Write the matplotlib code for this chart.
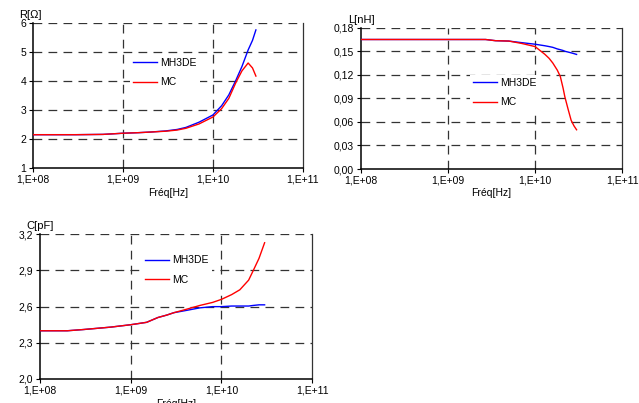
import numpy as np
import matplotlib
matplotlib.use('Agg')
import matplotlib.pyplot as plt
from matplotlib.ticker import FixedLocator, FuncFormatter, NullLocator

plt.rcParams['font.family'] = ['Liberation Sans', 'DejaVu Sans']
plt.rcParams['font.size'] = 7

# frequency points (Hz)
f_R = [1e8, 3e8, 6e8, 1e9, 1.5e9, 2e9, 3e9, 4e9, 5e9, 7e9, 1e10, 1.25e10, 1.5e10, 1.8e10, 2.1e10, 2.46e10, 2.75e10, 3e10]
R_mh3de = [2.15, 2.15, 2.16, 2.2, 2.22, 2.24, 2.28, 2.33, 2.4, 2.58, 2.83, 3.15, 3.52, 4.03, 4.5, 5.07, 5.4, 5.76]
R_mc = [2.15, 2.15, 2.16, 2.2, 2.22, 2.24, 2.27, 2.31, 2.37, 2.52, 2.76, 3.05, 3.4, 3.95, 4.35, 4.62, 4.45, 4.17]

f_L = [1e8, 5e8, 1e9, 2.7e9, 3.5e9, 5e9, 7e9, 1e10, 1.3e10, 1.45e10, 1.6e10, 1.8e10, 1.95e10, 2.1e10, 2.2e10, 2.4e10, 2.6e10, 2.8e10, 3e10]
L_mh3de = [0.165, 0.165, 0.165, 0.165, 0.1635, 0.163, 0.161, 0.159, 0.157, 0.156, 0.155, 0.153, 0.152, 0.151, 0.150, 0.149, 0.148, 0.147, 0.146]
L_mc = [0.165, 0.165, 0.165, 0.165, 0.1635, 0.163, 0.160, 0.156, 0.146, 0.141, 0.135, 0.126, 0.118, 0.103, 0.092, 0.076, 0.062, 0.055, 0.050]

f_C = [1e8, 2e8, 3e8, 6e8, 1e9, 1.5e9, 2e9, 2.5e9, 3e9, 4.2e9, 5.8e9, 8e9, 1e10, 1.3e10, 1.6e10, 2e10, 2.25e10, 2.6e10, 3e10]
C_mh3de = [2.40, 2.40, 2.41, 2.43, 2.45, 2.47, 2.51, 2.53, 2.55, 2.57, 2.59, 2.60, 2.60, 2.605, 2.605, 2.605, 2.61, 2.615, 2.615]
C_mc = [2.40, 2.40, 2.41, 2.43, 2.45, 2.47, 2.51, 2.53, 2.55, 2.58, 2.61, 2.635, 2.66, 2.70, 2.74, 2.82, 2.90, 3.00, 3.13]

x_ticks = [1e8, 1e9, 1e10, 1e11]
x_labels = ['1,E+08', '1,E+09', '1,E+10', '1,E+11']


def comma(fmt):
    return FuncFormatter(lambda v, p: (fmt % v).replace('.', ','))


def setup(ax, yticks, yfmt, ylabel, leg_anchor):
    ax.set_xscale('log')
    ax.set_xlim(1e8, 1e11)
    ax.set_ylim(yticks[0], yticks[-1])
    ax.xaxis.set_major_locator(FixedLocator(x_ticks))
    ax.xaxis.set_minor_locator(NullLocator())
    ax.set_xticklabels(x_labels)
    ax.yaxis.set_major_locator(FixedLocator(yticks))
    ax.yaxis.set_major_formatter(comma(yfmt))
    ax.tick_params(length=3, width=0.8, pad=2, labelsize=7.5)
    for y in yticks[1:]:
        ax.axhline(y, color='#333333', lw=0.9, dashes=(7, 5), zorder=1)
    for x in x_ticks[1:-1]:
        ax.axvline(x, color='#333333', lw=0.9, dashes=(7, 5), zorder=1)
    ax.spines['top'].set_visible(False)
    ax.spines['right'].set_color('#333333')
    ax.spines['right'].set_linewidth(0.9)
    ax.spines['left'].set_linewidth(1.1)
    ax.spines['bottom'].set_linewidth(1.1)
    ax.text(-0.05, 1.02, ylabel, transform=ax.transAxes, fontsize=8, ha='left', va='bottom')
    ax.text(0.5, -0.17, 'Fréq[Hz]', transform=ax.transAxes, fontsize=7.5, ha='center', va='center')
    leg = ax.legend(loc='upper left', bbox_to_anchor=leg_anchor, frameon=True, fontsize=7.5,
                    handlelength=2.3, handletextpad=0.3, labelspacing=0.9, borderpad=0.3,
                    borderaxespad=0, fancybox=False)
    leg.get_frame().set_facecolor('white')
    leg.get_frame().set_edgecolor('none')
    leg.get_frame().set_alpha(1)


fig = plt.figure(figsize=(6.39, 4.03), dpi=100)

ax1 = fig.add_axes([0.0516, 0.583, 0.4225, 0.36])
ax1.plot(f_R, R_mh3de, color='#0000ff', lw=1, label='MH3DE', zorder=3)
ax1.plot(f_R, R_mc, color='#ff0000', lw=1, label='MC', zorder=4)
setup(ax1, [1, 2, 3, 4, 5, 6], '%g', 'R[Ω]', (0.359, 0.78))

ax2 = fig.add_axes([0.565, 0.5806, 0.4085, 0.3506])
ax2.plot(f_L, L_mh3de, color='#0000ff', lw=1, label='MH3DE', zorder=3)
ax2.plot(f_L, L_mc, color='#ff0000', lw=1, label='MC', zorder=4)
setup(ax2, [0, 0.03, 0.06, 0.09, 0.12, 0.15, 0.18], '%.2f', 'L[nH]', (0.4185, 0.667))

ax3 = fig.add_axes([0.0626, 0.0596, 0.4257, 0.359])
ax3.plot(f_C, C_mh3de, color='#0000ff', lw=1, label='MH3DE', zorder=3)
ax3.plot(f_C, C_mc, color='#ff0000', lw=1, label='MC', zorder=4)
setup(ax3, [2.0, 2.3, 2.6, 2.9, 3.2], '%.1f', 'C[pF]', (0.376, 0.877))

fig.savefig('out.png', dpi=100)
